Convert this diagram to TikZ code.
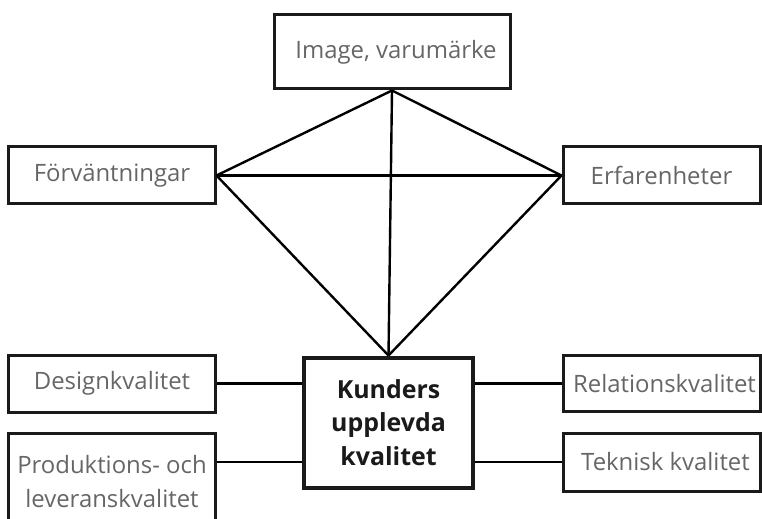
\documentclass[tikz,border=0pt]{standalone}
\usepackage{fontspec}
\setmainfont{Open Sans}
\usepackage{tikz}
\usetikzlibrary{positioning}
\definecolor{textgrey}{HTML}{666666}
\definecolor{linegrey}{HTML}{1A1A1A}

\begin{document}
\begin{tikzpicture}[x=1bp,y=-1bp,on grid,
   box/.style={draw=linegrey,line width=3bp,inner sep=0pt,align=center,
     text=textgrey,font=\fontsize{24}{34}\selectfont},
   core/.style={draw=linegrey,line width=4bp,inner sep=0pt,align=center,
     text=linegrey,font=\fontsize{25}{33.5}\selectfont\bfseries},
   kite/.style={draw=black,line width=2.4bp}]
   \useasboundingbox (0,0) rectangle (762,519);
   \node[core,minimum width=169bp,minimum height=130bp] (kund) at (388.5,422.5) {Kunders\\upplevda\\kvalitet};
   \node[box,minimum width=236bp,minimum height=74bp] (img) [above right=370.5bp and 3.5bp of kund] {\hspace*{8bp}Image, varumärke};
   \node[box,minimum width=206bp,minimum height=57bp] (fv) [below left=123.5bp and 280bp of img] {Förväntningar};
   \node[box,minimum width=197bp,minimum height=57bp] (erf) [right=549.5bp of fv] {Erfarenheter};
   \node[box,minimum width=206bp,minimum height=57bp] (design) [below=208bp of fv] {Designkvalitet};
   \node[box,minimum width=206bp,minimum height=97bp] (prod) [below=98bp of design] {Produktions- och\\leveranskvalitet};
   \node[box,minimum width=197bp,minimum height=56bp] (rel) [below=208bp of erf] {\hspace*{6bp}Relationskvalitet};
   \node[box,minimum width=197bp,minimum height=58bp] (tek) [below=78.5bp of rel] {\hspace*{8bp}Teknisk kvalitet};
   \path[kite]
    (img.south) edge (fv.east)
                edge (erf.west)
                edge (kund.north)
    (fv.east) edge (erf.west)
              edge (kund.north)
    (erf.west) edge (kund.north);
   \path[kite]
    (design.east) edge (design.east -| kund.west)
    (prod.east |- tek.west) edge (kund.west |- tek.west)
    (kund.east |- rel.west) edge (rel.west)
    (kund.east |- tek.west) edge (tek.west);
\end{tikzpicture}
\end{document}
